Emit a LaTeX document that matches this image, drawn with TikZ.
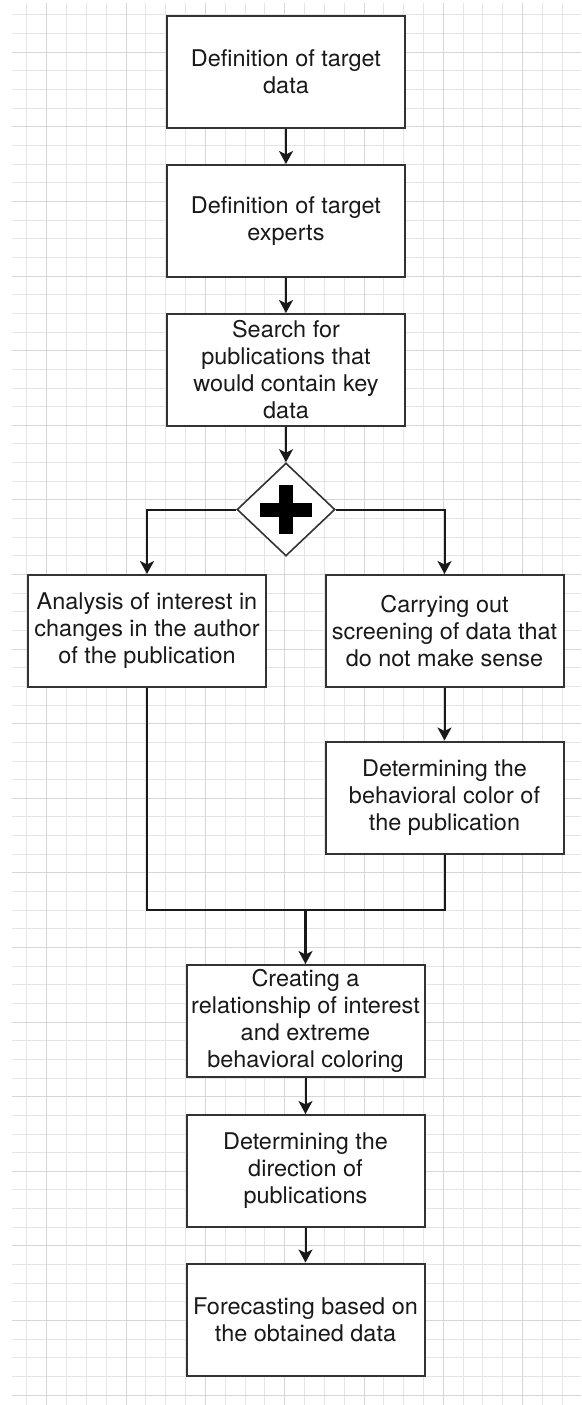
\documentclass[tikz,border=0pt]{standalone}
\usepackage{fontspec}
\setmainfont{TeX Gyre Heros}[FakeStretch=1.02]
\usetikzlibrary{arrows.meta,shapes.geometric}
\newcommand{\boxfont}{\fontsize{23}{27}\selectfont}
\tikzset{
  flownode/.style = {align=center, inner sep=0pt, text centered},
  box_s/.style = {flownode, rectangle, fill=white, draw=black!80, text=black!90, line width=2pt, minimum width=238pt, minimum height=112pt, font=\boxfont},
  gate_s/.style = {flownode, diamond, fill=white, draw=black!80, line width=1.6pt, minimum width=98pt, minimum height=93pt},
  link/.style = {draw=black!90, line width=2pt, -{Stealth[length=13pt, width=14pt, inset=3.5pt]}},
  gridmin/.style = {draw=black!10, line width=1pt},
  gridmaj/.style = {draw=black!16, line width=1pt},
}

\begin{document}
\begin{tikzpicture}[x=1pt, y=-1pt]
  \useasboundingbox[fill=white] (0,0) rectangle (581,1405);
  \foreach \i in {0,...,27}
    \draw[gridmin] (26.9+19.83*\i, 3.3) -- (26.9+19.83*\i, 1405);
  \foreach \j in {0,...,74}
    \draw[gridmin] (12, 15+18.65*\j) -- (581, 15+18.65*\j);
  \foreach \i in {1,5,...,25}
    \draw[gridmaj] (26.9+19.83*\i, 3.3) -- (26.9+19.83*\i, 1405);
  \foreach \j in {2,6,...,74}
    \draw[gridmaj] (12, 15+18.65*\j) -- (581, 15+18.65*\j);

  \node [box_s] (tgtdata) at (286,71.7) {Definition of target\\data};
  \node [box_s] (tgtexp) at (286,221) {Definition of target\\experts};
  \node [box_s] (search) at (286,370) {Search for\\publications that\\would contain key\\data};
  \node [gate_s] (gw) at (286,509.5) {};
  \fill [black] ([shift={(-26,-7)}]gw.center) rectangle ([shift={(26,7)}]gw.center);
  \fill [black] ([shift={(-7.2,-24.5)}]gw.center) rectangle ([shift={(7.2,24.5)}]gw.center);
  \node [box_s] (interest) at (147,631) {Analysis of interest in\\changes in the author\\of the publication};
  \node [box_s] (screen) at (444.5,631) {Carrying out\\screening of data that\\do not make sense};
  \node [box_s] (color) at (444.5,797.5) {Determining the\\behavioral color of\\the publication};
  \coordinate (merge) at (305.5,910);
  \node [box_s] (relation) at (305.5,1021) {Creating a\\relationship of interest\\and extreme\\behavioral coloring};
  \node [box_s] (direction) at (305.5,1171) {Determining the\\direction of\\publications};
  \node [box_s] (forecast) at (305.5,1319.5) {Forecasting based on\\the obtained data};

  \draw [link] (tgtdata) -- (tgtexp);
  \draw [link] (tgtexp) -- (search);
  \draw [link] (search) -- (gw);
  \draw [link] (gw.west) -| (interest.north);
  \draw [link] (gw.east) -| (screen.north);
  \draw [link] (screen) -- (color);
  \draw [draw=black!90, line width=2pt] (interest.south) |- (merge) -| (color.south);
  \draw [link, line width=3.2pt] (merge) -- (relation);
  \draw [link] (relation) -- (direction);
  \draw [link] (direction) -- (forecast);
\end{tikzpicture}
\end{document}
